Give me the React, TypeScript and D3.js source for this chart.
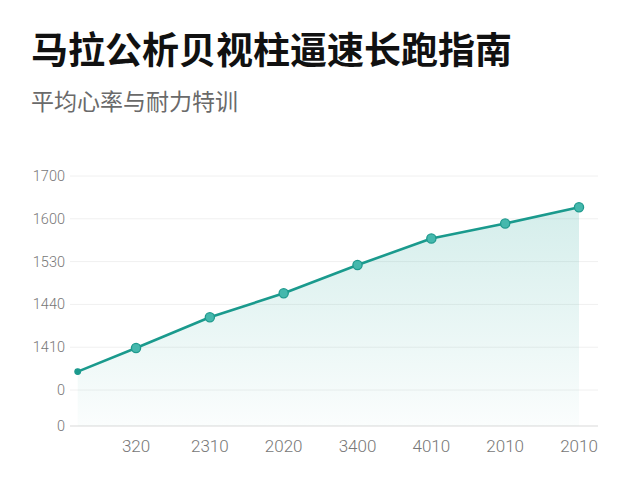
import React from "react";
import * as d3 from "d3";

const title = "马拉公析贝视柱逼速长跑指南";
const subtitle = "平均心率与耐力特训";

// y grid levels (bottom to top) and their labels
const yLevels = [0, 1, 2, 3, 4, 5, 6];
const yLabels = ["0", "0", "1410", "1440", "1530", "1600", "1700"];

// x category positions and labels
const xLevels = [1, 2, 3, 4, 5, 6, 7];
const xLabels = ["320", "2310", "2020", "3400", "4010", "2010", "2010"];

// series: x position (category units) and y value (grid level units)
const seriesX = [0.21, 1, 2, 3, 4, 5, 6, 7];
const seriesY = [1.43, 1.98, 2.7, 3.26, 3.92, 4.54, 4.89, 5.27];

export default function App() {
  const W = 640;
  const H = 480;
  const x = d3.scaleLinear().domain([0, 7]).range([62.2, 579]);
  const y = d3.scaleLinear().domain([0, 1, 6]).range([426, 390, 176]);
  const gridX0 = 70;
  const gridX1 = 598;

  const pts = seriesX.map((v, i) => [v, seriesY[i]] as [number, number]);
  const line = d3
    .line<[number, number]>()
    .x((d) => x(d[0]))
    .y((d) => y(d[1]));
  const area = d3
    .area<[number, number]>()
    .x((d) => x(d[0]))
    .y0(y(0))
    .y1((d) => y(d[1]));

  const font = "Roboto, 'Noto Sans', 'Noto Sans CJK SC', sans-serif";

  return (
    <svg
      width={W}
      height={H}
      viewBox={`0 0 ${W} ${H}`}
      style={{ position: "absolute", left: 0, top: 0, background: "#ffffff" }}
    >
      <defs>
        <linearGradient id="areaGrad" x1="0" y1="0" x2="0" y2="1">
          <stop offset="0%" stopColor="#2aa89b" stopOpacity={0.2} />
          <stop offset="100%" stopColor="#2aa89b" stopOpacity={0.02} />
        </linearGradient>
      </defs>
      <rect x={0} y={0} width={W} height={H} fill="#ffffff" />
      <text
        x={31}
        y={64}
        fontFamily="'Noto Sans CJK SC', sans-serif"
        fontWeight={700}
        fontSize={37}
        fill="#111111"
      >
        {title}
      </text>
      <text
        x={31}
        y={110}
        fontFamily="'Noto Sans CJK SC', sans-serif"
        fontWeight={400}
        fontSize={23}
        fill="#6a6a6a"
      >
        {subtitle}
      </text>

      {yLevels.map((lv, i) => (
        <g key={"gy" + i}>
          <line
            x1={gridX0}
            x2={gridX1}
            y1={y(lv)}
            y2={y(lv)}
            stroke={lv === 0 ? "#d9d9d9" : "#f0f0f0"}
            strokeWidth={1}
          />
          <text
            x={65}
            y={y(lv)}
            dy="0.35em"
            textAnchor="end"
            fontFamily={font}
            fontWeight={300}
            fontSize={14.5}
            fill="#777777"
          >
            {yLabels[i]}
          </text>
        </g>
      ))}

      <path d={area(pts) || ""} fill="url(#areaGrad)" />
      <path
        d={line(pts) || ""}
        fill="none"
        stroke="#1a9a8d"
        strokeWidth={2.6}
        strokeLinejoin="round"
        strokeLinecap="round"
      />
      {pts.map((p, i) => (
        <circle
          key={"pt" + i}
          cx={x(p[0])}
          cy={y(p[1])}
          r={i === 0 ? 2.8 : 4.6}
          fill={i === 0 ? "#1a9a8d" : "#45b8ad"}
          stroke="#1f9a8e"
          strokeWidth={1.3}
        />
      ))}

      {xLevels.map((lv, i) => (
        <text
          key={"xl" + i}
          x={x(lv)}
          y={446}
          dy="0.35em"
          textAnchor="middle"
          fontFamily={font}
          fontWeight={300}
          fontSize={17}
          fill="#777777"
        >
          {xLabels[i]}
        </text>
      ))}
    </svg>
  );
}
